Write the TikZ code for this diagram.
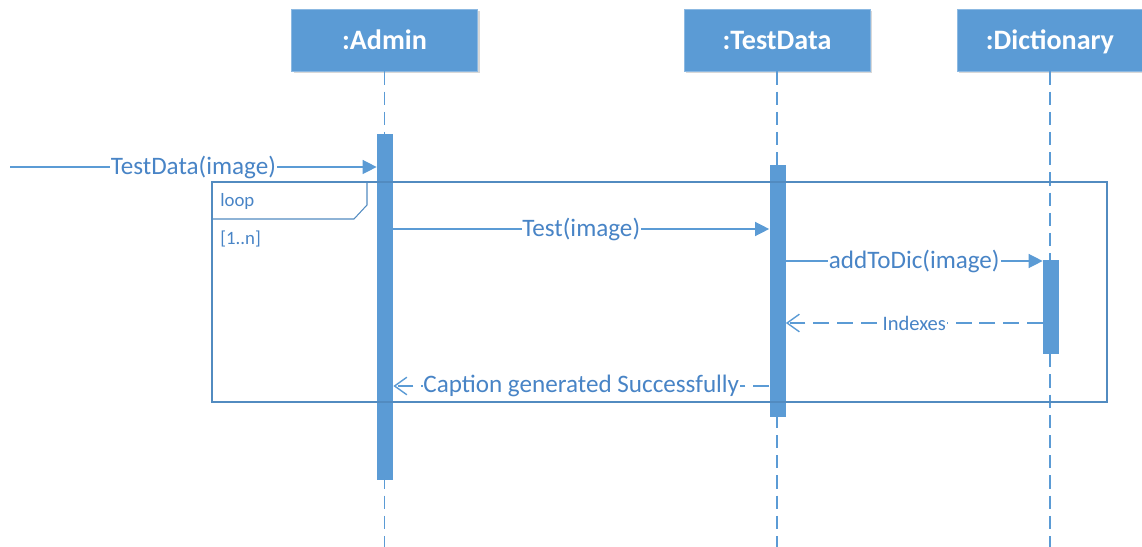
\documentclass[tikz,border=0pt]{standalone}
\usepackage{fontspec}
\setmainfont{Carlito}
\usepackage{tikz}
\usetikzlibrary{calc, positioning, arrows.meta, shadows}
\definecolor{Umlblue}{RGB}{91,155,213}
\definecolor{Umltext}{RGB}{72,132,198}

\begin{document}
\begin{tikzpicture}[x=0.02cm, y=-0.02cm,
  objbox/.style={rectangle, draw=Umlblue!70!white, fill=Umlblue,
                 minimum width=3.72cm, minimum height=1.24cm,
                 text height=10.4pt, text depth=0pt,
                 text=white, font=\fontsize{16pt}{19pt}\selectfont\bfseries,
                 drop shadow={shadow xshift=1.2pt, shadow yshift=-1.2pt,
                              fill=black!30, opacity=0.5}},
  actbar/.style={rectangle, fill=Umlblue, draw=none, minimum width=0.32cm,
                 inner sep=0pt},
  lifeline/.style={draw=Umlblue, line width=0.9pt, dash pattern=on 7.5pt off 4pt},
  callarr/.style={-{Triangle[length=8pt, width=8pt]}, draw=Umlblue, line width=0.8pt},
  retarr/.style={-{Straight Barb[length=7pt, width=10pt]}, draw=Umlblue,
                 line width=0.8pt, dash pattern=on 9pt off 4.5pt},
  msglbl/.style={fill=white, inner sep=0.5pt, text=Umltext,
                 font=\fontsize{14.3pt}{17pt}\selectfont},
  smalllbl/.style={fill=white, inner sep=0.5pt, text=Umltext,
                   font=\fontsize{11.7pt}{14pt}\selectfont},
  framelbl/.style={anchor=west, inner sep=0pt, text=Umltext,
                   font=\fontsize{10.7pt}{12pt}\selectfont},
  loopframe/.style={draw=Umlblue!90!black, line width=0.6pt}
]
\useasboundingbox (0,0) rectangle (1142,547);

%% --- OBJECTS ---
\node[objbox] (admin)    at (384.5, 40) {:Admin};
\node[objbox] (testdata) at (777, 40)   {:TestData};
\node[objbox] (dict)     at (1050, 40)  {:Dictionary};

\coordinate (bottom) at (0, 547);

%% --- LIFELINES ---
\draw[lifeline] (admin.south)    -- (admin.south |- bottom);
\draw[lifeline] (testdata.south) -- (testdata.south |- bottom);
\draw[lifeline] (dict.south)     -- (dict.south |- bottom);

%% --- ACTIVATION BARS ---
\node[actbar, minimum height=6.92cm] (actadmin) at (385, 307) {};
\node[actbar, minimum height=5.04cm] (acttest)  at (777.5, 291) {};
\node[actbar, minimum height=1.88cm] (actdict)  at (1051, 307) {};

%% --- MESSAGES ---
\coordinate (start) at (10, 167);
\draw[callarr] (start) -- (actadmin.west |- start)
      node[midway, msglbl] {TestData(image)};

\draw[callarr] (actadmin.east |- 0,229) -- (acttest.west |- 0,229)
      node[midway, msglbl] {Test(image)};

\draw[callarr] (acttest.east |- 0,261) -- (actdict.west |- 0,261)
      node[midway, msglbl] {addToDic(image)};

\draw[retarr] (actdict.west |- 0,323) -- (acttest.east |- 0,323)
      node[midway, smalllbl] {Indexes};

\draw[retarr] (acttest.west |- 0,386) -- (actadmin.east |- 0,386)
      node[midway, msglbl] {Caption generated Successfully};

%% --- LOOP FRAME ---
\draw[loopframe] (212, 182) rectangle (1107, 402);
\draw[loopframe] (367, 182) -- (367, 205) -- (354, 219) -- (212, 219);
\node[framelbl] (looplbl)  at (220, 201) {loop};
\node[framelbl] (guardlbl) at (220, 239) {[1..n]};

\end{tikzpicture}
\end{document}
